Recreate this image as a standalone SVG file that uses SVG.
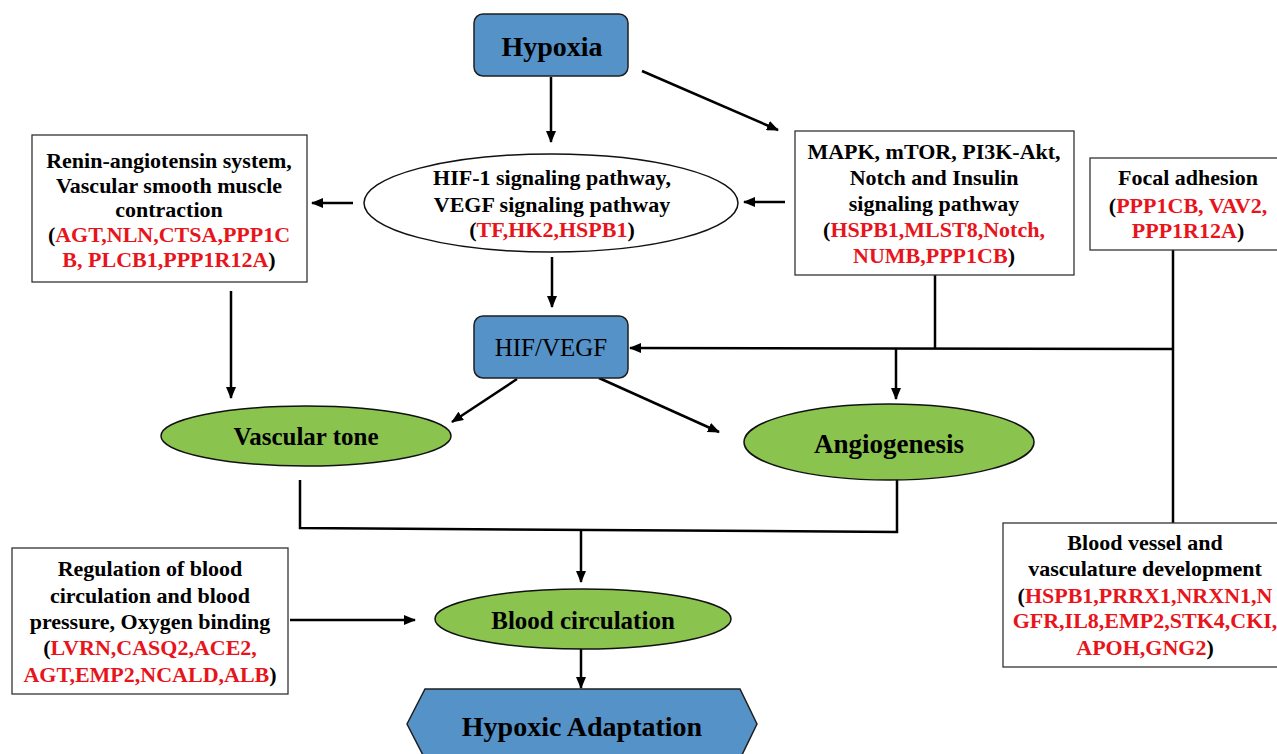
<svg xmlns="http://www.w3.org/2000/svg" width="1277" height="754" viewBox="0 0 1277 754">
<defs>
<marker id="ah" markerUnits="userSpaceOnUse" markerWidth="12" markerHeight="10" refX="11" refY="5" orient="auto">
<path d="M0,0 L12,5 L0,10 Z" fill="#000"/>
</marker>
<style>
.t{font-family:"Liberation Serif","Times New Roman",serif;font-weight:bold;font-size:22px;fill:#000;text-anchor:middle}
.r{fill:#e8141b}
.box{fill:#fff;stroke:#333;stroke-width:1.3}
.blue{fill:#5592c7;stroke:#1f1f1f;stroke-width:1.5}
.green{fill:#8bc34f;stroke:#111;stroke-width:1.5}
.oval{fill:#fff;stroke:#111;stroke-width:1.5}
.ln{fill:none;stroke:#000;stroke-width:2.5}
.ar{fill:none;stroke:#000;stroke-width:2.5;marker-end:url(#ah)}
</style>
</defs>
<rect width="1277" height="754" fill="#fff"/>

<g id="connectors">
<line class="ar" x1="551" y1="77" x2="551" y2="142"/>
<line class="ar" x1="642" y1="71" x2="778" y2="130"/>
<line class="ar" x1="785" y1="202" x2="744" y2="202"/>
<line class="ar" x1="353" y1="203" x2="312" y2="203"/>
<line class="ar" x1="552" y1="257" x2="552" y2="307"/>
<line class="ar" x1="231" y1="291" x2="231" y2="398"/>
<line class="ar" x1="517" y1="379" x2="452" y2="422"/>
<line class="ar" x1="599" y1="378" x2="719" y2="432"/>
<line class="ln" x1="1173" y1="250" x2="1173" y2="523"/>
<line class="ln" x1="935" y1="275" x2="935" y2="349"/>
<line class="ar" x1="1173" y1="349" x2="630" y2="348"/>
<line class="ar" x1="896" y1="349" x2="896" y2="399"/>
<polyline class="ln" points="300,480 300,528 897,532 897,477"/>
<line class="ar" x1="581" y1="530" x2="581" y2="582"/>
<line class="ar" x1="290" y1="620" x2="415" y2="620"/>
<line class="ar" x1="581" y1="649" x2="581" y2="688"/>
</g>

<g id="hypoxia">
<rect class="blue" x="474" y="14" width="154" height="62" rx="9"/>
<text class="t" x="552" y="56" style="font-size:28px">Hypoxia</text>
</g>

<g id="hif1">
<ellipse class="oval" cx="551" cy="203" rx="187" ry="49"/>
<text class="t" x="552" y="185">HIF-1 signaling pathway,</text>
<text class="t" x="552" y="212">VEGF signaling pathway</text>
<text class="t" x="552" y="237">(<tspan class="r">TF,HK2,HSPB1</tspan>)</text>
</g>

<g id="renin">
<rect class="box" x="32" y="135" width="275" height="147"/>
<text class="t" x="169" y="168">Renin-angiotensin system,</text>
<text class="t" x="169" y="193">Vascular smooth muscle</text>
<text class="t" x="169" y="217">contraction</text>
<text class="t" x="169" y="242">(<tspan class="r">AGT,NLN,CTSA,PPP1C</tspan></text>
<text class="t" x="169" y="267"><tspan class="r">B, PLCB1,PPP1R12A</tspan>)</text>
</g>

<g id="mapk">
<rect class="box" x="795" y="131" width="279" height="144"/>
<text class="t" x="934" y="159">MAPK, mTOR, PI3K-Akt,</text>
<text class="t" x="934" y="185">Notch and Insulin</text>
<text class="t" x="934" y="211">signaling pathway</text>
<text class="t" x="934" y="237">(<tspan class="r">HSPB1,MLST8,Notch,</tspan></text>
<text class="t" x="934" y="263"><tspan class="r">NUMB,PPP1CB</tspan>)</text>
</g>

<g id="focal">
<rect class="box" x="1090" y="158" width="197" height="92"/>
<text class="t" x="1188" y="185">Focal adhesion</text>
<text class="t" x="1188" y="213">(<tspan class="r">PPP1CB, VAV2,</tspan></text>
<text class="t" x="1188" y="238"><tspan class="r">PPP1R12A</tspan>)</text>
</g>

<g id="hifvegf">
<rect class="blue" x="474" y="316" width="154" height="62" rx="9"/>
<text class="t" x="551" y="356" style="font-weight:normal;font-size:25px">HIF/VEGF</text>
</g>

<g id="vascular-tone">
<ellipse class="green" cx="306" cy="436" rx="145" ry="30"/>
<text class="t" x="306" y="445" style="font-size:25px">Vascular tone</text>
</g>

<g id="angiogenesis">
<ellipse class="green" cx="889" cy="442" rx="145" ry="38"/>
<text class="t" x="889" y="453" style="font-size:27px">Angiogenesis</text>
</g>

<g id="blood-vessel">
<rect class="box" x="1003" y="523" width="284" height="144"/>
<text class="t" x="1145" y="550">Blood vessel and</text>
<text class="t" x="1145" y="576">vasculature development</text>
<text class="t" x="1145" y="603">(<tspan class="r">HSPB1,PRRX1,NRXN1,N</tspan></text>
<text class="t" x="1145" y="628"><tspan class="r">GFR,IL8,EMP2,STK4,CKI,</tspan></text>
<text class="t" x="1145" y="655"><tspan class="r">APOH,GNG2</tspan>)</text>
</g>

<g id="regulation">
<rect class="box" x="12" y="548" width="276" height="146"/>
<text class="t" x="150" y="576">Regulation of blood</text>
<text class="t" x="150" y="603">circulation and blood</text>
<text class="t" x="150" y="629">pressure, Oxygen binding</text>
<text class="t" x="150" y="655">(<tspan class="r">LVRN,CASQ2,ACE2,</tspan></text>
<text class="t" x="150" y="682"><tspan class="r">AGT,EMP2,NCALD,ALB</tspan>)</text>
</g>

<g id="blood-circulation">
<ellipse class="green" cx="583" cy="619" rx="148" ry="30"/>
<text class="t" x="583" y="629" style="font-size:25px">Blood circulation</text>
</g>

<g id="hypoxic-adaptation">
<polygon class="blue" points="407,724 425,689 740,689 757,724 740,759 425,759"/>
<text class="t" x="582" y="736" style="font-size:28px">Hypoxic Adaptation</text>
</g>
</svg>
